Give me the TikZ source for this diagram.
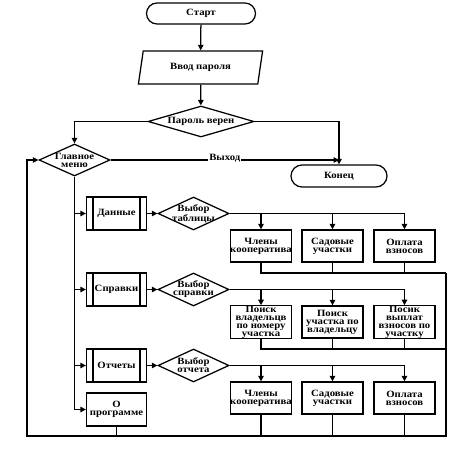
\documentclass[tikz,border=0pt]{standalone}
\usepackage{fontspec}
\setmainfont[FakeStretch=1.12]{Liberation Serif}
\usetikzlibrary{shapes.geometric,shapes.misc,arrows.meta}
\begin{document}
\begin{tikzpicture}[x=1pt,y=-1pt,
  font=\fontsize{9.6}{8}\selectfont\bfseries,
  line width=1.25pt,
  >={Triangle[length=5.5pt,width=5.5pt]},
  term/.style={rounded rectangle, draw, inner sep=0},
  proc/.style={rectangle, draw, minimum width=61pt, minimum height=32pt, inner sep=0, align=center},
  pred/.style={rectangle, draw, minimum width=60pt, minimum height=33pt, inner sep=0, align=center,
    path picture={
      \draw[line width=1.1pt] ([xshift=6.5pt]path picture bounding box.north west) -- ([xshift=6.5pt]path picture bounding box.south west);
      \draw[line width=1.1pt] ([xshift=-6.5pt]path picture bounding box.north east) -- ([xshift=-6.5pt]path picture bounding box.south east);}},
  dec/.style={diamond, draw, minimum width=71pt, minimum height=33pt, inner sep=0},
  txt/.style={align=center, inner sep=0}
]
\useasboundingbox (0,0) rectangle (474,449);

% top part
\node[term, minimum width=109pt, minimum height=21pt] (start) at (201,13.5) {Старт};
\node[trapezium, draw, trapezium left angle=73, trapezium right angle=107,
      trapezium stretches=true, minimum width=125pt, minimum height=33pt, inner sep=0] (inp) at (200.5,67.5) {Ввод пароля};
\node[dec, minimum width=106pt, minimum height=31pt] (pw) at (201,121.5) {};
\node[txt] (pwt) at (pw.center) {Пароль верен};
\node[dec, minimum width=71pt, minimum height=32pt] (menu) at (74.5,160) {};
\node[txt] (menut) at (menu.center) {Главное\\меню};
\node[term, minimum width=96pt, minimum height=22pt] (end) at (339,176) {Конец};

% row 1
\node[pred] (dan) at (116.5,213.5) {Данные};
\node[dec] (d1) at (193.5,213.5) {};
\node[txt] (d1t) at (d1.center) {Выбор\\таблицы};
\node[proc] (a1) at (261,246) {Члены\\кооператива};
\node[proc] (a2) at (332.5,246) {Садовые\\участки};
\node[proc] (a3) at (404.5,246) {Оплата\\взносов};

% row 2
\node[pred] (spr) at (116.5,289.5) {Справки};
\node[dec] (d2) at (193.5,289.5) {};
\node[txt] (d2t) at (d2.center) {Выбор\\справки};
\node[proc] (b1) at (261,322) {Поиск\\владельцв\\по номеру\\участка};
\node[proc] (b2) at (332.5,322) {Поиск\\участка по\\владельцу};
\node[proc] (b3) at (404.5,322) {Посик\\выплат\\взносов по\\участку};

% row 3
\node[pred] (otc) at (116.5,365.5) {Отчеты};
\node[dec] (d3) at (193.5,365.5) {};
\node[txt] (d3t) at (d3.center) {Выбор\\отчета};
\node[proc] (c1) at (261,398) {Члены\\кооператива};
\node[proc] (c2) at (332.5,398) {Садовые\\участки};
\node[proc] (c3) at (404.5,398) {Оплата\\взносов};

% about
\node[proc, minimum width=60pt, minimum height=33pt] (about) at (116.5,409.5) {О\\программе};

% helper coordinates
\coordinate (j1) at (446,273);
\coordinate (j2) at (446,349);
\coordinate (BR) at (446,436);
\coordinate (BL) at (27,436);

% connectors top
\draw[->] (start) -- (inp);
\draw[->] (inp) -- (pw);
\draw[->] (pw.west) -| (menu.north);
\draw[->] (pw.east) -| (end.north);
\draw[->] (menu.east) -- (menu.east -| end.north)
  node[midway, fill=white, inner sep=1pt, yshift=2pt] (exit) {Выход};

% spine
\draw (menu.south) -- (menu.south |- about.west);
\draw[->] (menu.south |- dan.west) -- (dan.west);
\draw[->] (menu.south |- spr.west) -- (spr.west);
\draw[->] (menu.south |- otc.west) -- (otc.west);
\draw[->] (menu.south |- about.west) -- (about.west);

% row connectors
\draw[->] (dan) -- (d1);
\draw[->] (spr) -- (d2);
\draw[->] (otc) -- (d3);

\draw (d1.east) -- (d1.east -| a3.north);
\draw[->] (d1.east -| a1.north) -- (a1.north);
\draw[->] (d1.east -| a2.north) -- (a2.north);
\draw[->] (d1.east -| a3.north) -- (a3.north);

\draw (d2.east) -- (d2.east -| b3.north);
\draw[->] (d2.east -| b1.north) -- (b1.north);
\draw[->] (d2.east -| b2.north) -- (b2.north);
\draw[->] (d2.east -| b3.north) -- (b3.north);

\draw (d3.east) -- (d3.east -| c3.north);
\draw[->] (d3.east -| c1.north) -- (c1.north);
\draw[->] (d3.east -| c2.north) -- (c2.north);
\draw[->] (d3.east -| c3.north) -- (c3.north);

% collectors
\draw (a1.south) -- (a1.south |- j1) -- (j1);
\draw (a2.south) -- (a2.south |- j1);
\draw (a3.south) -- (a3.south |- j1);
\draw (b1.south) -- (b1.south |- j2) -- (j2);
\draw (b2.south) -- (b2.south |- j2);
\draw (b3.south) -- (b3.south |- j2);
\draw (c1.south) -- (c1.south |- BR);
\draw (c2.south) -- (c2.south |- BR);
\draw (c3.south) -- (c3.south |- BR);
\draw (about.south) -- (about.south |- BL);
\draw[->] (j1) -- (BR) -- (BL) -- (BL |- menu.west) -- (menu.west);
\end{tikzpicture}
\end{document}
